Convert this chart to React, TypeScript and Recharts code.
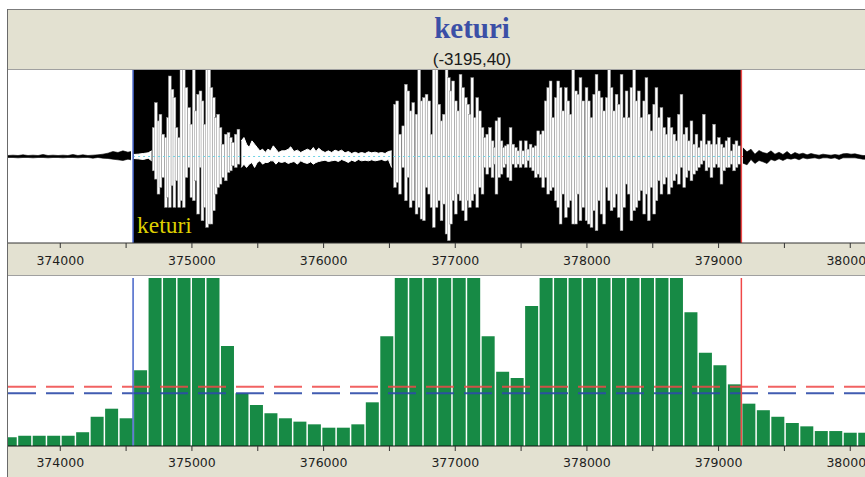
import React from 'react'
import { Area, Bar, BarChart, ComposedChart, ReferenceArea, ReferenceLine, XAxis, YAxis } from 'recharts'

const chartTitle = 'keturi'
const chartSubtitle = '(-3195,40)'
const segmentName = 'keturi'

const timeDomain: [number, number] = [373603, 380112]
const timeTicks = [
  374000, 374500, 375000, 375500, 376000, 376500, 377000, 377500, 378000, 378500, 379000, 379500, 380000
]
const selectionStart = 374553
const selectionEnd = 379173

// waveform, amplitude units; panel clips at +-260
const ampDomain: [number, number] = [-260, 260]

// voiced bursts inside the selection (one peak per pitch period)
const spikeTimes = [
  374711, 374727, 374747, 374762, 374782, 374803, 374820, 374833, 374853, 374868, 374884, 374904, 374921, 374939,
  374959, 374980, 374997, 375015, 375030, 375048, 375066, 375081, 375099, 375116, 375132, 375149, 375167, 375182,
  375200, 375218, 375238, 375258, 375279, 375296, 375314, 375334, 375354,
  376543, 376560, 376581, 376606, 376626, 376644, 376662, 376682, 376707, 376727, 376745, 376763, 376783, 376803,
  376821, 376838, 376859, 376879, 376897, 376914, 376935, 376952, 376968, 376985, 377005, 377023, 377041, 377061,
  377081, 377099, 377112, 377130, 377150, 377168, 377188, 377208, 377226, 377244, 377264, 377284, 377302, 377314,
  377335, 377352, 377370, 377385, 377403, 377421, 377441, 377461, 377479, 377497, 377517, 377537, 377555, 377573,
  377593, 377613, 377631, 377649, 377669, 377689, 377707, 377725, 377745, 377765, 377783, 377801, 377821, 377841,
  377859, 377876, 377897, 377917, 377935, 377952, 377973, 377998, 378015, 378036, 378056, 378074, 378091, 378112,
  378132, 378152, 378170, 378188, 378208, 378226, 378243, 378264, 378284, 378302, 378319, 378339, 378360, 378377,
  378395, 378415, 378436, 378453, 378471, 378491, 378512, 378529, 378547, 378567, 378588, 378605, 378623, 378643,
  378664, 378681, 378699, 378719, 378740, 378757, 378775, 378795, 378815, 378833, 378851, 378871, 378889, 378909,
  378927, 378947, 378967, 378985, 379003, 379023, 379043, 379061, 379079, 379099, 379119, 379137, 379155
]
const spikeHigh = [
  87, 162, 107, 127, 67, 57, 117, 242, 202, 177, 87, 57, 300, 300,
  207, 147, 97, 300, 137, 187, 197, 167, 97, 300, 300, 207, 177, 117,
  127, 87, 37, 67, 72, 57, 42, 67, 82,
  157, 167, 67, 92, 217, 197, 137, 162, 127, 300, 167, 177, 187, 167,
  67, 300, 300, 157, 107, 127, 300, 237, 197, 227, 167, 137, 247, 207,
  177, 157, 127, 237, 117, 177, 137, 87, 57, 67, 87, 47, 27, 107,
  117, 47, 27, 32, 37, 87, 37, 27, 17, 47, 17, 47, 22, 37,
  27, 32, 77, 67, 77, 167, 207, 227, 117, 177, 227, 207, 137, 207,
  167, 127, 300, 197, 187, 237, 167, 207, 167, 117, 187, 247, 197, 177,
  137, 177, 300, 207, 137, 187, 157, 247, 117, 197, 117, 207, 300, 167,
  197, 117, 167, 237, 127, 77, 157, 207, 117, 147, 87, 67, 117, 87,
  67, 47, 127, 187, 67, 87, 47, 107, 37, 67, 27, 47, 127, 37,
  47, 37, 97, 37, 57, 37, 27, 47, 57, 17, 37, 47, 32
]
const spikeLow = [
  -43, -68, -113, -93, -63, -153, -123, -153, -88, -153, -73, -153, -133, -153,
  -63, -33, -123, -133, -73, -173, -33, -193, -153, -213, -203, -203, -163, -113,
  -93, -83, -63, -73, -48, -43, -28, -33, -23,
  -93, -78, -113, -33, -133, -63, -153, -133, -173, -153, -188, -193, -93, -113,
  -153, -213, -153, -133, -193, -143, -233, -253, -203, -133, -173, -113, -133, -163,
  -193, -133, -153, -133, -113, -153, -93, -113, -33, -53, -33, -63, -23, -113,
  -63, -53, -33, -23, -63, -73, -23, -33, -23, -33, -23, -33, -13, -33,
  -43, -63, -53, -63, -93, -63, -113, -103, -93, -133, -153, -203, -113, -183,
  -153, -133, -203, -203, -113, -193, -153, -193, -203, -213, -163, -223, -133, -173,
  -203, -93, -133, -163, -153, -113, -183, -223, -153, -83, -113, -193, -163, -153,
  -133, -103, -173, -113, -193, -93, -173, -133, -73, -113, -83, -63, -113, -93,
  -73, -53, -83, -33, -93, -63, -43, -73, -53, -43, -33, -23, -13, -43,
  -33, -63, -33, -23, -33, -83, -43, -33, -33, -23, -43, -33, -23
]

// low-level stretches inside the selection
const quietTimes = [
  374556, 374592, 374630, 374668, 374694,
  375375, 375395, 375415, 375435, 375456, 375476, 375496, 375516, 375537, 375557, 375577, 375597, 375618, 375638,
  375658, 375681, 375707, 375732, 375750, 375775, 375801, 375826, 375851, 375877, 375902, 375922, 375942, 375963,
  375986, 376011, 376036, 376061, 376087, 376112, 376137, 376163, 376188, 376213, 376239, 376264, 376289, 376315,
  376340, 376365, 376391, 376416, 376441, 376467, 376492, 376517
]
const quietHigh = [
  6, 7, 9, 11, 17,
  47, 57, 37, 27, 47, 37, 27, 17, 22, 12, 22, 17, 32, 22,
  12, 17, 17, 22, 29, 15, 19, 12, 17, 22, 17, 27, 15, 25,
  17, 12, 17, 12, 19, 15, 19, 11, 15, 9, 13, 9, 12, 9,
  14, 11, 13, 10, 12, 9, 15, 17
]
const quietLow = [
  -6, -7, -9, -5, -13,
  -33, -23, -33, -23, -18, -33, -18, -13, -23, -18, -18, -13, -13, -23,
  -15, -18, -15, -21, -18, -15, -23, -13, -18, -21, -16, -23, -18, -15,
  -13, -11, -15, -13, -11, -15, -9, -13, -18, -11, -15, -9, -13, -11,
  -13, -10, -13, -11, -9, -13, -9, -33
]

// background noise outside the selection
const noiseTimes = [
  373603, 373641, 373679, 373717, 373755, 373793, 373831, 373869, 373907, 373945, 373983, 374021, 374058, 374096,
  374134, 374172, 374210, 374248, 374286, 374324, 374362, 374400, 374438, 374476, 374514, 374537,
  379185, 379216, 379246, 379276, 379307, 379337, 379368, 379398, 379428, 379459, 379489, 379520, 379550, 379580,
  379611, 379641, 379672, 379702, 379732, 379763, 379793, 379824, 379854, 379884, 379915, 379945, 379976, 380006,
  380036, 380067, 380097, 380120
]
const noiseHigh = [
  3, 4, 3, 5, 3, 4, 3, 6, 3, 4, 3, 4, 3, 6, 3, 5, 3, 4, 5, 7, 10, 15, 12, 17, 13, 15,
  26, 14, 22, 7, 18, 12, 9, 17, 7, 13, 6, 15, 5, 12,
  7, 10, 5, 9, 6, 4, 7, 5, 4, 6, 4, 8, 9, 7,
  8, 5, 3, 3
]
const noiseLow = [
  -3, -3, -4, -3, -3, -4, -3, -3, -4, -3, -3, -4, -3, -3, -4, -3, -3, -5, -3, -5, -6, -8, -10, -12, -8, -10,
  -20, -25, -9, -21, -12, -16, -21, -9, -13, -7, -12, -6, -8, -5,
  -10, -4, -7, -5, -4, -7, -4, -4, -6, -4, -9, -4, -4, -4,
  -4, -6, -8, -8
]

// frame energy histogram (110-sample frames)
const frameTimes = [
  373618, 373728, 373838, 373948, 374058, 374168, 374278, 374388, 374498, 374608,
  374718, 374828, 374938, 375048, 375158, 375268, 375378, 375488, 375598, 375708,
  375818, 375928, 376038, 376148, 376258, 376368, 376478, 376588, 376698, 376808,
  376918, 377028, 377138, 377248, 377358, 377468, 377578, 377688, 377798, 377908,
  378018, 378128, 378238, 378348, 378458, 378568, 378678, 378788, 378898, 379008,
  379118, 379228, 379338, 379448, 379558, 379668, 379778, 379888, 379998, 380108
]
const frameEnergy = [
  5.2, 6.1, 6.1, 6.1, 6.1, 8.2, 17.4, 22.2, 16.5, 45.1,
  130, 140, 150, 140, 125, 59.5, 31.4, 24.4, 19.5, 16.5,
  14.5, 12.9, 10.9, 10.9, 12.9, 26, 65.3, 130, 140, 145,
  145, 140, 125, 65.3, 44.2, 40.5, 83.3, 120, 135, 145,
  150, 150, 145, 140, 130, 115, 105, 79.6, 55.5, 48,
  36.7, 25.2, 21.3, 17.4, 13.7, 11.7, 8.9, 8.9, 7.9, 7.9
]
const energyDomain: [number, number] = [0, 100]
const upperThreshold = 35.3
const lowerThreshold = 31.4

const BEIGE = '#e3e1d1'
const tickFont = { fontSize: 12.5, fill: '#1e1e1e', fontFamily: 'DejaVu Sans' }

interface WaveRow {
  t: number
  spike?: number[]
  quiet?: number[]
  noise?: number[]
}

const waveRows: WaveRow[] = [
  ...spikeTimes.map((t, i) => ({ t, spike: [spikeLow[i], spikeHigh[i]] })),
  ...quietTimes.map((t, i) => ({ t, quiet: [quietLow[i], quietHigh[i]] })),
  ...noiseTimes.map((t, i) => ({ t, noise: [noiseLow[i], noiseHigh[i]] }))
].sort((a, b) => a.t - b.t)

const frameRows = frameTimes.map((t, i) => ({ t, energy: frameEnergy[i] }))

const tickText = (v: number) => (v % 1000 === 0 ? String(v) : '')

interface ShapeProps {
  x?: number
  y?: number
  width?: number
  height?: number
}

// a waveform peak: keep a fixed stroke width whatever the band size is
function renderSpike(props: ShapeProps) {
  const { x = 0, y = 0, width = 0, height = 0 } = props
  if (!height) return <g />
  const top = height < 0 ? y + height : y
  return (
    <rect
      x={x + width / 2 - 1.4}
      y={top}
      width={2.8}
      height={Math.abs(height)}
      fill="#fff"
      stroke="#8c8c8c"
      strokeWidth={0.5}
    />
  )
}

function renderSegmentLabel(props: { viewBox?: { x: number; y: number; width: number; height: number } }) {
  const vb = props.viewBox
  if (!vb) return <g />
  return (
    <text x={vb.x + 4} y={vb.y + vb.height - 10} fill="#dfd000" fontSize={23.5} fontFamily="'Liberation Serif', serif">
      {segmentName}
    </text>
  )
}

export default function App() {
  return (
    <div
      style={{ position: 'absolute', left: 0, top: 0, width: 865, height: 477, overflow: 'hidden', background: '#fff' }}
    >
      {/* title band */}
      <svg style={{ position: 'absolute', left: 7, top: 9 }} width={858} height={61}>
        <rect x={0} y={0} width={858} height={61} fill={BEIGE} />
        <line x1={0} y1={0.5} x2={858} y2={0.5} stroke="#7c7c7c" />
        <line x1={0} y1={60.5} x2={858} y2={60.5} stroke="#a0a0a0" />
        <text
          x={465}
          y={29}
          textAnchor="middle"
          fill="#3b4fa6"
          fontSize={29}
          fontWeight="bold"
          fontFamily="'Liberation Serif', serif"
        >
          {chartTitle}
        </text>
        <text x={465} y={56} textAnchor="middle" fill="#1a1a1a" fontSize={17} fontFamily="'Liberation Sans', sans-serif">
          {chartSubtitle}
        </text>
      </svg>

      {/* waveform panel */}
      <div style={{ position: 'absolute', left: 8, top: 70, width: 857, height: 206, background: BEIGE }}>
        <div style={{ position: 'absolute', left: 0, top: 0, width: 857, height: 173, background: '#fff' }} />
        <div style={{ position: 'absolute', left: 0, top: 205, width: 857, height: 1, background: '#a0a0a0' }} />
        <ComposedChart
          width={857}
          height={206}
          data={waveRows}
          margin={{ top: 0, right: 0, bottom: 0, left: 0 }}
          style={{ position: 'absolute', left: 0, top: 0 }}
        >
          <XAxis
            dataKey="t"
            type="number"
            domain={timeDomain}
            allowDataOverflow
            ticks={timeTicks}
            interval={0}
            tickFormatter={tickText}
            height={33}
            tickSize={5}
            tickMargin={8.5}
            tick={tickFont}
            axisLine={{ stroke: '#333' }}
            tickLine={{ stroke: '#333' }}
          />
          <YAxis type="number" domain={ampDomain} allowDataOverflow hide />
          <ReferenceArea
            x1={selectionStart}
            x2={selectionEnd}
            fill="#000"
            fillOpacity={1}
            zIndex={-60}
            label={renderSegmentLabel}
          />
          <ReferenceLine
            segment={[
              { x: selectionEnd, y: 0 },
              { x: timeDomain[1], y: 0 }
            ]}
            stroke="#e03c3c"
            zIndex={-50}
          />
          <Area
            dataKey="noise"
            type="linear"
            fill="#000"
            fillOpacity={1}
            stroke="#000"
            strokeWidth={0.6}
            isAnimationActive={false}
            dot={false}
            activeDot={false}
          />
          <Area
            dataKey="quiet"
            type="linear"
            fill="#fff"
            fillOpacity={1}
            stroke="#fff"
            strokeWidth={1}
            isAnimationActive={false}
            dot={false}
            activeDot={false}
          />
          <Bar dataKey="spike" fill="#fff" shape={renderSpike} isAnimationActive={false} />
          <ReferenceLine
            segment={[
              { x: selectionStart, y: 0 },
              { x: selectionEnd, y: 0 }
            ]}
            stroke="#6fd3e6"
            strokeDasharray="2 3"
            zIndex={350}
          />
          <ReferenceLine x={selectionStart} stroke="#4463c8" strokeWidth={1.5} zIndex={400} />
          <ReferenceLine x={selectionEnd} stroke="#f04848" strokeWidth={1.5} zIndex={400} />
        </ComposedChart>
      </div>

      {/* energy panel */}
      <div style={{ position: 'absolute', left: 8, top: 276, width: 857, height: 201, background: BEIGE }}>
        <div style={{ position: 'absolute', left: 0, top: 0, width: 857, height: 170, background: '#fff' }} />
        <BarChart
          width={857}
          height={201}
          data={frameRows}
          margin={{ top: 2, right: 0, bottom: 0, left: 0 }}
          style={{ position: 'absolute', left: 0, top: 0 }}
        >
          <XAxis
            dataKey="t"
            type="number"
            domain={timeDomain}
            allowDataOverflow
            ticks={timeTicks}
            interval={0}
            tickFormatter={tickText}
            height={31}
            tickSize={5}
            tickMargin={7.5}
            tick={tickFont}
            axisLine={{ stroke: '#111' }}
            tickLine={{ stroke: '#333' }}
          />
          <YAxis type="number" domain={energyDomain} allowDataOverflow hide />
          <Bar dataKey="energy" fill="#178a45" barSize={13} isAnimationActive={false} />
          <ReferenceLine
            y={upperThreshold}
            stroke="#ee4646"
            strokeOpacity={0.85}
            strokeWidth={2}
            strokeDasharray="28 10"
            zIndex={400}
          />
          <ReferenceLine
            y={lowerThreshold}
            stroke="#2c4aa8"
            strokeOpacity={0.9}
            strokeWidth={2}
            strokeDasharray="28 10"
            zIndex={400}
          />
          <ReferenceLine x={selectionStart} stroke="#4463c8" strokeWidth={1.5} zIndex={450} />
          <ReferenceLine x={selectionEnd} stroke="#f04848" strokeWidth={1.5} zIndex={450} />
        </BarChart>
      </div>

      {/* frame border on the left */}
      <div style={{ position: 'absolute', left: 7, top: 9, width: 1, height: 468, background: '#6a6a6a' }} />
    </div>
  )
}
